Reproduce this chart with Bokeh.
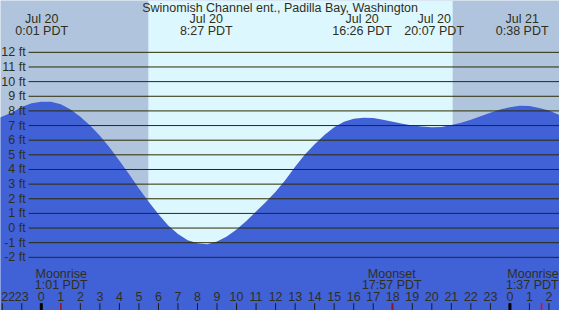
from bokeh.plotting import figure
from bokeh.models import Range1d
from bokeh.embed import file_html
from bokeh.resources import INLINE
from bokeh.core.properties import value

# ---------------- data ----------------
title = "Swinomish Channel ent., Padilla Bay, Washington"

# tide height (ft), hours from Jul 20 00:00 PDT
hours = [-2.5, -2.0, -1.5, -1.0, -0.5, 0.0, 0.5, 1.0, 1.5, 2.0, 2.5, 3.0, 3.5,
         4.0, 4.5, 5.0, 5.5, 6.0, 6.5, 7.0, 7.5, 8.0, 8.5, 9.0, 9.5, 10.0,
         10.5, 11.0, 11.5, 12.0, 12.5, 13.0, 13.5, 14.0, 14.5, 15.0, 15.5,
         16.0, 16.5, 17.0, 17.5, 18.0, 18.5, 19.0, 19.5, 20.0, 20.5, 21.0,
         21.5, 22.0, 22.5, 23.0, 23.5, 24.0, 24.5, 25.0, 25.5, 26.0, 26.5, 27.0]
heights = [7.35, 7.62, 7.9, 8.26, 8.52, 8.63, 8.62, 8.45, 8.1, 7.6, 7.0, 6.3, 5.5,
           4.6, 3.68, 2.7, 1.8, 0.95, 0.18, -0.4, -0.83, -1.04, -1.1, -0.92, -0.57, -0.1,
           0.48, 1.13, 1.78, 2.48, 3.28, 4.18, 5.02, 5.72, 6.35, 6.88, 7.26,
           7.46, 7.54, 7.51, 7.39, 7.26, 7.13, 7.01, 6.93, 6.88, 6.9, 7.03,
           7.2, 7.39, 7.64, 7.88, 8.1, 8.25, 8.35, 8.33, 8.2, 8.02, 7.74, 7.4]

levels = [-2, -1, 0, 1, 2, 3, 4, 5, 6, 7, 8, 9, 10, 11, 12]
level_labels = ["-2 ft", "-1 ft", "0 ft", "1 ft", "2 ft", "3 ft", "4 ft", "5 ft",
                "6 ft", "7 ft", "8 ft", "9 ft", "10 ft", "11 ft", "12 ft"]

sunrise = [5.48]
sunset = [21.07]

event_hours = [0.02, 8.45, 16.43, 20.12, 24.63]
event_dates = ["Jul 20", "Jul 20", "Jul 20", "Jul 20", "Jul 21"]
event_times = ["0:01 PDT", "8:27 PDT", "16:26 PDT", "20:07 PDT", "0:38 PDT"]

moon_hours = [1.02, 17.95, 25.62]
moon_names = ["Moonrise", "Moonset", "Moonrise"]
moon_times = ["1:01 PDT", "17:57 PDT", "1:37 PDT"]

tick_hours = list(range(-2, 27))
tick_labels = ["22", "23", "0", "1", "2", "3", "4", "5", "6", "7", "8", "9",
               "10", "11", "12", "13", "14", "15", "16", "17", "18", "19", "20",
               "21", "22", "23", "0", "1", "2"]
midnights = [0, 24]

# ---------------- styling ----------------
NIGHT = "#B0C4DE"
DAY = "#DDF7FF"
TIDE = "#4161D7"
INK = "#2F2F1C"
LINE = "#2B2B00"
FONT = value("Liberation Sans")
FS = "12.5px"

XMIN, XMAX = -2.09, 26.54
YMIN, YMAX = -5.63, 15.54
EDGE = 0.04  # small inset so edge labels stay inside the frame

p = figure(width=559, height=310, x_range=Range1d(XMIN, XMAX),
           y_range=Range1d(YMIN, YMAX), output_backend="svg",
           toolbar_location=None, min_border=0)
p.axis.visible = False
p.grid.visible = False
p.outline_line_color = None
p.background_fill_color = NIGHT
p.border_fill_color = NIGHT

# daylight
p.quad(left=sunrise, right=sunset, bottom=YMIN, top=YMAX,
       fill_color=DAY, line_color=None)

# tide area
p.varea(x=hours, y1=YMIN, y2=heights, fill_color=TIDE)

# level lines
p.segment(x0=-0.65, x1=XMAX, y0=levels, y1=levels, line_color=LINE, line_width=1)

common = dict(text_baseline="middle", text_font_size=FS, text_color=INK, text_font=FONT)

# level labels
p.text(x=-0.8, y=levels, text=level_labels, text_align="right", **common)

# title
p.text(x=[12.23], y=[15.05], text=[title], text_align="center", **common)

# high / low labels
p.text(x=event_hours, y=14.3, text=event_dates, text_align="center", **common)
p.text(x=event_hours, y=13.46, text=event_times, text_align="center", **common)

# moon labels (the last one is kept inside the right edge)
p.text(x=moon_hours[:2], y=-3.12, text=moon_names[:2], text_align="center", **common)
p.text(x=moon_hours[:2], y=-3.9, text=moon_times[:2], text_align="center", **common)
p.text(x=[XMAX - EDGE], y=-3.12, text=moon_names[2:], text_align="right", **common)
p.text(x=[XMAX - EDGE], y=-3.9, text=moon_times[2:], text_align="right", **common)

# hour labels (the first one is kept inside the left edge)
p.text(x=tick_hours[1:], y=-4.69, text=tick_labels[1:], text_align="center", **common)
p.text(x=[XMIN + EDGE], y=-4.69, text=tick_labels[:1], text_align="left", **common)

# ticks
p.segment(x0=tick_hours, x1=tick_hours, y0=YMIN, y1=-5.13,
          line_color="#1a1a1a", line_width=1)
p.segment(x0=midnights, x1=midnights, y0=YMIN, y1=-5.13,
          line_color="black", line_width=3)
p.segment(x0=moon_hours, x1=moon_hours, y0=YMIN, y1=-5.13,
          line_color="red", line_width=1.5)

open("out.html", "w").write(file_html(p, INLINE))
